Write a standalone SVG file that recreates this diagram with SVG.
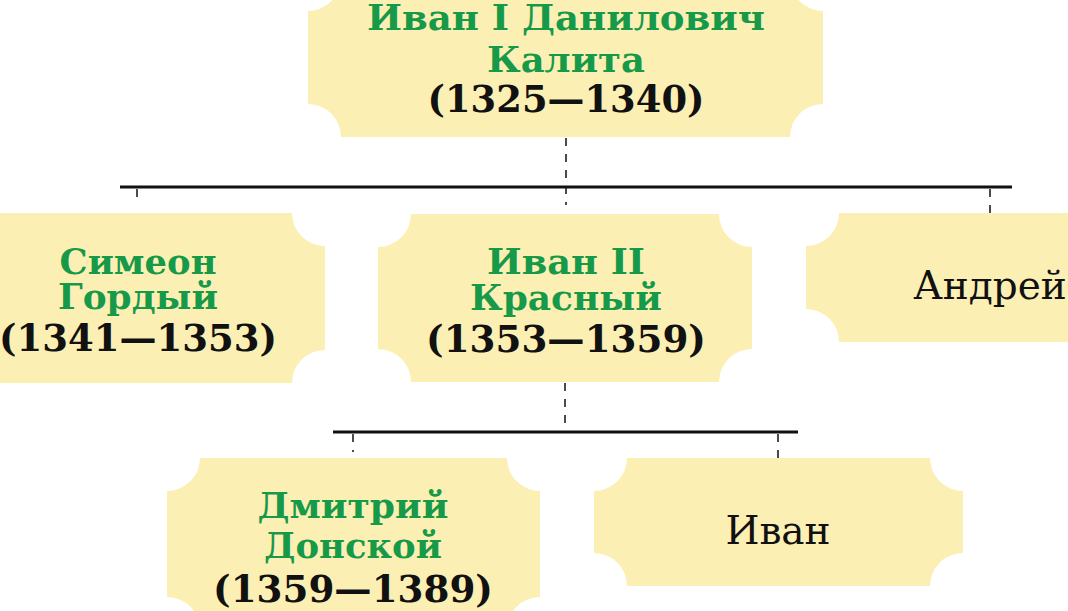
<svg xmlns="http://www.w3.org/2000/svg" width="1068" height="611" viewBox="0 0 1068 611">
<style>
.node{fill:#FCEFB3;}
.g{font-family:"DejaVu Serif","Liberation Serif",serif;font-weight:bold;font-size:36px;fill:#17994A;text-anchor:middle;}
.d{font-family:"DejaVu Serif","Liberation Serif",serif;font-weight:bold;font-size:37px;fill:#111;text-anchor:middle;}
.n{font-family:"DejaVu Serif","Liberation Serif",serif;font-size:39px;fill:#111;text-anchor:middle;}
.solid{stroke:#111;stroke-width:3;fill:none;}
.dash{stroke:#111;stroke-width:1.5;stroke-dasharray:8 8;fill:none;}
</style>
<rect width="1068" height="611" fill="#fff"/>
<g id="connectors">
<line class="solid" x1="120" y1="187" x2="1012" y2="187"/>
<line class="solid" x1="333" y1="432" x2="798" y2="432"/>
<line class="dash" x1="566" y1="138" x2="566" y2="205"/>
<line class="dash" x1="137" y1="189" x2="137" y2="205"/>
<line class="dash" x1="990" y1="189" x2="990" y2="213"/>
<line class="dash" x1="565" y1="383" x2="565" y2="430"/>
<line class="dash" x1="353" y1="434" x2="353" y2="452"/>
<line class="dash" x1="778" y1="434" x2="778" y2="458"/>
</g>
<g id="kalita">
<path class="node" d="M341,-22 H790 A33,33 0 0 0 823,11 V104 A33,33 0 0 0 790,137 H341 A33,33 0 0 0 308,104 V11 A33,33 0 0 0 341,-22 Z"/>
<text class="g" x="566" y="30" textLength="398" lengthAdjust="spacingAndGlyphs">Иван I Данилович</text>
<text class="g" x="566" y="72" textLength="158" lengthAdjust="spacingAndGlyphs">Калита</text>
<text class="d" x="566" y="112" textLength="277" lengthAdjust="spacingAndGlyphs">(1325—1340)</text>
</g>
<g id="simeon">
<path class="node" d="M-16,213 H292 A33,33 0 0 0 325,246 V350 A33,33 0 0 0 292,383 H-16 A33,33 0 0 0 -49,350 V246 A33,33 0 0 0 -16,213 Z"/>
<text class="g" x="138" y="274" textLength="157" lengthAdjust="spacingAndGlyphs">Симеон</text>
<text class="g" x="138" y="309" textLength="160" lengthAdjust="spacingAndGlyphs">Гордый</text>
<text class="d" x="138" y="351" textLength="278" lengthAdjust="spacingAndGlyphs">(1341—1353)</text>
</g>
<g id="ivan2">
<path class="node" d="M411,214 H719 A33,33 0 0 0 752,247 V349 A33,33 0 0 0 719,382 H411 A33,33 0 0 0 378,349 V247 A33,33 0 0 0 411,214 Z"/>
<text class="g" x="566" y="274" textLength="158" lengthAdjust="spacingAndGlyphs">Иван II</text>
<text class="g" x="566" y="310" textLength="192" lengthAdjust="spacingAndGlyphs">Красный</text>
<text class="d" x="566" y="352" textLength="280" lengthAdjust="spacingAndGlyphs">(1353—1359)</text>
</g>
<g id="andrey">
<path class="node" d="M839,213 H1141 A33,33 0 0 0 1174,246 V309 A33,33 0 0 0 1141,342 H839 A33,33 0 0 0 806,309 V246 A33,33 0 0 0 839,213 Z"/>
<text class="n" x="990" y="299">Андрей</text>
</g>
<g id="dmitry">
<path class="node" d="M200,458 H507 A33,33 0 0 0 540,491 V597 A33,33 0 0 0 507,630 H200 A33,33 0 0 0 167,597 V491 A33,33 0 0 0 200,458 Z"/>
<text class="g" x="353" y="518" textLength="191" lengthAdjust="spacingAndGlyphs">Дмитрий</text>
<text class="g" x="353" y="558" textLength="178" lengthAdjust="spacingAndGlyphs">Донской</text>
<text class="d" x="353" y="602" textLength="280" lengthAdjust="spacingAndGlyphs">(1359—1389)</text>
</g>
<g id="ivan">
<path class="node" d="M627,458 H930 A33,33 0 0 0 963,491 V553 A33,33 0 0 0 930,586 H627 A33,33 0 0 0 594,553 V491 A33,33 0 0 0 627,458 Z"/>
<text class="n" x="778" y="544">Иван</text>
</g>
</svg>
